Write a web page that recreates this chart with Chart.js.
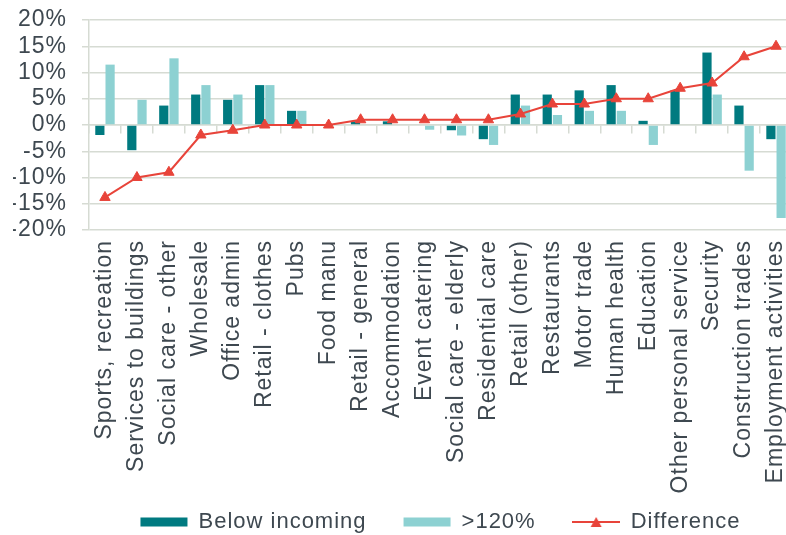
<!DOCTYPE html>
<html>
<head>
<meta charset="utf-8">
<script src="https://cdn.jsdelivr.net/npm/chart.js@4/dist/chart.umd.min.js"></script>
<style>
  html, body { margin: 0; padding: 0; overflow: hidden; background: #ffffff; }
  #wrap { width: 793px; height: 535px; }
</style>
</head>
<body>
<div id="wrap"><canvas id="chart" width="793" height="535"></canvas></div>
<script>
// Sectors, ordered by the difference between the two shares
const categories = [
  'Sports, recreation', 'Services to buildings', 'Social care - other', 'Wholesale',
  'Office admin', 'Retail - clothes', 'Pubs', 'Food manu', 'Retail - general',
  'Accommodation', 'Event catering', 'Social care - elderly', 'Residential care',
  'Retail (other)', 'Restaurants', 'Motor trade', 'Human health', 'Education',
  'Other personal service', 'Security', 'Construction trades', 'Employment activities'
];

// Percentage points
const belowIncoming = [-1.9, -4.8, 3.7, 5.8, 4.8, 7.6, 2.7, 0, 0.7, 0.7, 0, -1.0,
  -2.7, 5.8, 5.8, 6.6, 7.6, 0.8, 6.6, 13.8, 3.7, -2.7];
const over120 = [11.5, 4.8, 12.7, 7.6, 5.8, 7.6, 2.7, 0, 0, 0, -0.9, -2.0,
  -3.8, 3.7, 1.9, 2.7, 2.7, -3.8, 0, 5.8, -8.7, -17.7];
const difference = [-13.8, -10.0, -9.0, -1.9, -1.0, 0, 0, 0, 1.0, 1.0, 1.0, 1.0,
  1.0, 2.1, 4.0, 4.0, 5.0, 5.0, 7.0, 8.0, 13.0, 15.0];

const yTickValues = [-20, -15, -10, -5, 0, 5, 10, 15, 20];

const DARK = '#007A80';
const LIGHT = '#8DD1D2';
const RED = '#E8443A';
const GRID = '#D6DBD3';
const TEXT = '#3E4850';
const FONT = "'Liberation Sans', Arial, sans-serif";

Chart.defaults.font.family = FONT;

// Legend marker for the line series: a short line with a triangle on it
function lineSwatch(color) {
  const c = document.createElement('canvas');
  c.width = 48; c.height = 14;
  const g = c.getContext('2d');
  g.strokeStyle = color;
  g.lineWidth = 2;
  g.beginPath(); g.moveTo(0, 7); g.lineTo(48, 7); g.stroke();
  g.fillStyle = color;
  g.beginPath(); g.moveTo(24, 2); g.lineTo(29.5, 12); g.lineTo(18.5, 12); g.closePath(); g.fill();
  return c;
}
const diffMarker = lineSwatch(RED);

// Slightly open letter spacing for all chart text
const textSpacing = {
  id: 'textSpacing',
  beforeUpdate(chart) { chart.ctx.letterSpacing = '1px'; },
  beforeDraw(chart) { chart.ctx.letterSpacing = '1px'; }
};

function noSidePadding(scale) {
  scale.paddingLeft = 0; scale.paddingRight = 0;
}

new Chart(document.getElementById('chart'), {
  type: 'bar',
  data: {
    labels: categories,
    datasets: [
      {
        type: 'bar', label: 'Below incoming', data: belowIncoming,
        backgroundColor: DARK, borderWidth: 0, order: 2,
        xAxisID: 'x', yAxisID: 'y',
        categoryPercentage: 0.64, barPercentage: 0.9
      },
      {
        type: 'bar', label: '>120%', data: over120,
        backgroundColor: LIGHT, borderWidth: 0, order: 3,
        xAxisID: 'x', yAxisID: 'y',
        categoryPercentage: 0.64, barPercentage: 0.9
      },
      {
        type: 'line', label: 'Difference', data: difference,
        borderColor: RED, backgroundColor: RED, borderWidth: 2,
        pointStyle: 'triangle', pointRadius: 6, pointHoverRadius: 6,
        pointBackgroundColor: RED, pointBorderColor: RED, pointBorderWidth: 1,
        tension: 0, fill: false, order: 1, clip: false,
        xAxisID: 'x', yAxisID: 'y'
      }
    ]
  },
  options: {
    responsive: false,
    animation: false,
    devicePixelRatio: 1,
    events: [],
    layout: { autoPadding: false, padding: { top: 20, left: 13, right: 1, bottom: 0 } },
    scales: {
      // category scale for the bars; it also keeps the band under the plot
      // free for the rotated sector names
      x: {
        type: 'category',
        position: 'bottom',
        offset: true,
        grid: { display: false, drawTicks: false },
        border: { display: false },
        ticks: { display: false },
        afterFit(scale) { scale.height = 244; noSidePadding(scale); }
      },
      // sector names, hung from the bottom of the value range
      xLabels: {
        type: 'category',
        axis: 'x',
        position: { y: yTickValues[0] },
        offset: true,
        grid: { display: false, drawTicks: false },
        border: { display: false },
        ticks: {
          autoSkip: false, minRotation: 90, maxRotation: 90, padding: 10,
          color: TEXT, font: { family: FONT, size: 23 }
        },
        afterFit: noSidePadding
      },
      // zero line with category tick marks
      x0: {
        type: 'category',
        axis: 'x',
        position: { y: 0 },
        offset: true,
        grid: {
          offset: true, drawOnChartArea: false, drawTicks: true,
          tickLength: 8, color: GRID, lineWidth: 1.5
        },
        border: { display: true, color: GRID, width: 1.5 },
        ticks: { display: false },
        afterFit: noSidePadding
      },
      y: {
        min: yTickValues[0],
        max: yTickValues[yTickValues.length - 1],
        afterBuildTicks(scale) { scale.ticks = yTickValues.map(v => ({ value: v })); },
        ticks: {
          autoSkip: false,
          padding: 15, color: TEXT, font: { family: FONT, size: 23 },
          callback: v => v + '%'
        },
        grid: { color: GRID, lineWidth: 1.5, drawTicks: true, tickLength: 7 },
        border: { display: true, color: GRID, width: 1.5 },
        afterFit(scale) {
          scale.width = 76;
          scale.paddingTop = 0; scale.paddingBottom = 0;
        }
      }
    },
    plugins: {
      tooltip: { enabled: false },
      legend: {
        position: 'bottom',
        fullSize: false,
        maxHeight: 61,
        labels: {
          usePointStyle: true,
          pointStyleWidth: 47,
          boxHeight: 9,
          padding: 37,
          color: TEXT,
          font: { family: FONT, size: 22 },
          sort: (a, b) => a.datasetIndex - b.datasetIndex,
          generateLabels(chart) {
            const items = Chart.defaults.plugins.legend.labels.generateLabels(chart);
            items.forEach(item => {
              item.pointStyle = item.datasetIndex === 2 ? diffMarker : 'rect';
              item.lineWidth = 0;
            });
            return items;
          }
        }
      }
    }
  },
  plugins: [textSpacing]
});
</script>
</body>
</html>
